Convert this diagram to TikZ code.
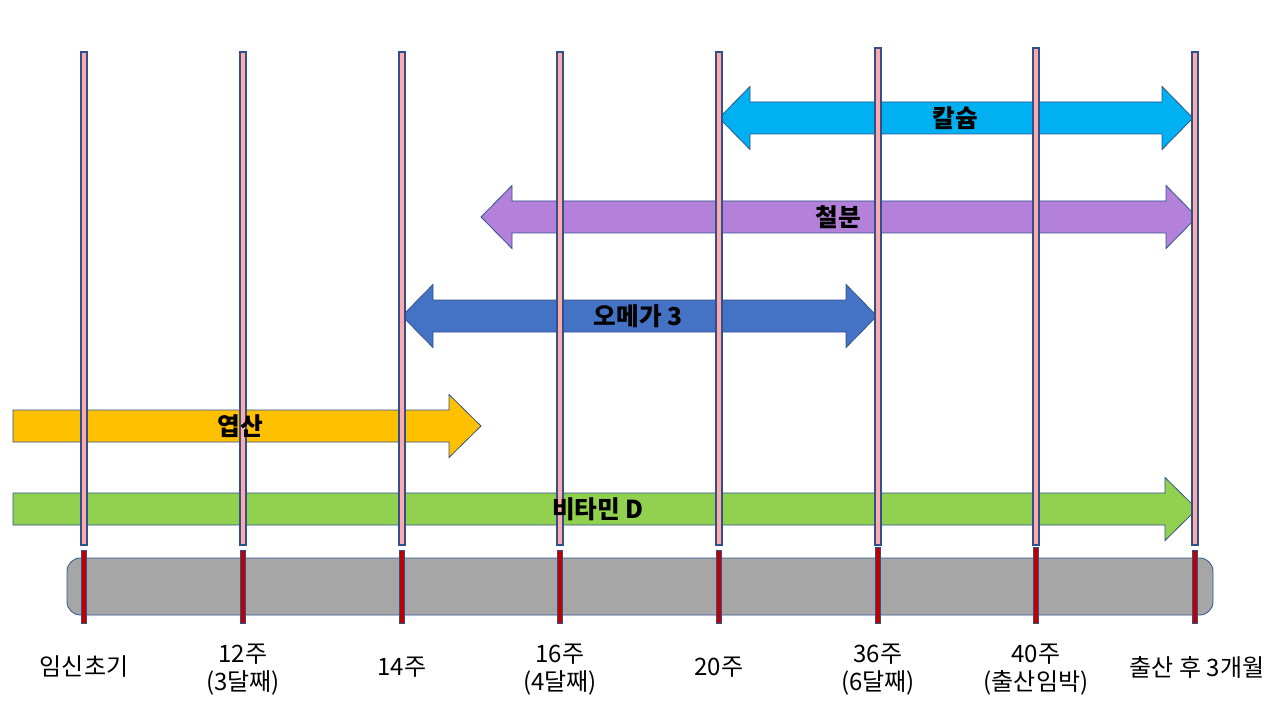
\documentclass[tikz,border=0pt]{standalone}
\usepackage{fontspec}
\setmainfont{Noto Sans CJK KR}
\definecolor{pinkline}{HTML}{FFA9A9}
\definecolor{bord}{HTML}{2F528F}
\definecolor{tickred}{HTML}{C00000}
\definecolor{barg}{HTML}{A6A6A6}
\definecolor{cCa}{HTML}{00B0F0}
\definecolor{cFe}{HTML}{B381D9}
\definecolor{cOm}{HTML}{4472C4}
\definecolor{cFo}{HTML}{FFC000}
\definecolor{cVd}{HTML}{92D050}
\begin{document}
\begin{tikzpicture}[x=0.75pt,y=-0.75pt,
  arrowshape/.style={draw=bord,line width=0.6pt,line join=miter},
  vline/.style={draw=bord,fill=pinkline,line width=0.8pt},
  tickbar/.style={draw=bord,fill=tickred,line width=0.5pt},
  alabel/.style={font=\fontsize{18.5}{20}\selectfont\bfseries,inner sep=0pt},
  tlabel/.style={font=\fontsize{18}{21}\selectfont,align=center,inner sep=0pt}]
\useasboundingbox (0,0) rectangle (1280,720);
% double arrows
\newcommand{\dblarr}[4]{% left tip, right tip, y centre, colour
  \fill[#4,arrowshape] (#1,#3) -- (#1+31,#3-31.5) -- (#1+31,#3-16) -- (#2-31,#3-16) -- (#2-31,#3-31.5)
    -- (#2,#3) -- (#2-31,#3+31.5) -- (#2-31,#3+16) -- (#1+31,#3+16) -- (#1+31,#3+31.5) -- cycle;}
\newcommand{\sglarr}[4]{% left end, right tip, y centre, colour
  \fill[#4,arrowshape] (#1,#3-16) -- (#2-32,#3-16) -- (#2-32,#3-31.5)
    -- (#2,#3) -- (#2-32,#3+31.5) -- (#2-32,#3+16) -- (#1,#3+16) -- cycle;}
\dblarr{719}{1193}{118}{cCa}
\dblarr{481}{1197}{217}{cFe}
\dblarr{402}{877}{316}{cOm}
\sglarr{13}{481}{426}{cFo}
\sglarr{13}{1197}{509}{cVd}
% vertical lines
\foreach \x/\t in {84/52,243/52,402/52,560/52,719/52,878/48,1036/48,1195/52}{
  \draw[vline] (\x-3,\t) rectangle (\x+3,545);
}
% bar
\draw[draw=bord,fill=barg,line width=0.6pt,rounded corners=10pt] (67,558) rectangle (1213,615);
\foreach \x/\t in {84/550,243/550,402/550,560/550,719/550,878/547,1036/547,1195/550}{
  \draw[tickbar] (\x-2.5,\t) rectangle (\x+2.5,623);
}
% arrow labels
\node[alabel] (ca) at (955,118) {칼슘};
\node[alabel] (fe) at (838,217) {철분};
\node[alabel] (om) at (638,316) {오메가 3};
\node[alabel] (fo) at (240,426) {엽산};
\node[alabel] (vd) at (598,509) {비타민 D};
% timeline labels
\node[tlabel] (t1) at (84,667) {임신초기};
\node[tlabel] (t2) at (243,670) {12주\\(3달째)};
\node[tlabel] (t3) at (402,667) {14주};
\node[tlabel] (t4) at (560,670) {16주\\(4달째)};
\node[tlabel] (t5) at (719,667) {20주};
\node[tlabel] (t6) at (878,670) {36주\\(6달째)};
\node[tlabel] (t7) at (1036,670) {40주\\(출산임박)};
\node[tlabel] (t8) at (1197,667) {출산 후 3개월};
\end{tikzpicture}
\end{document}
